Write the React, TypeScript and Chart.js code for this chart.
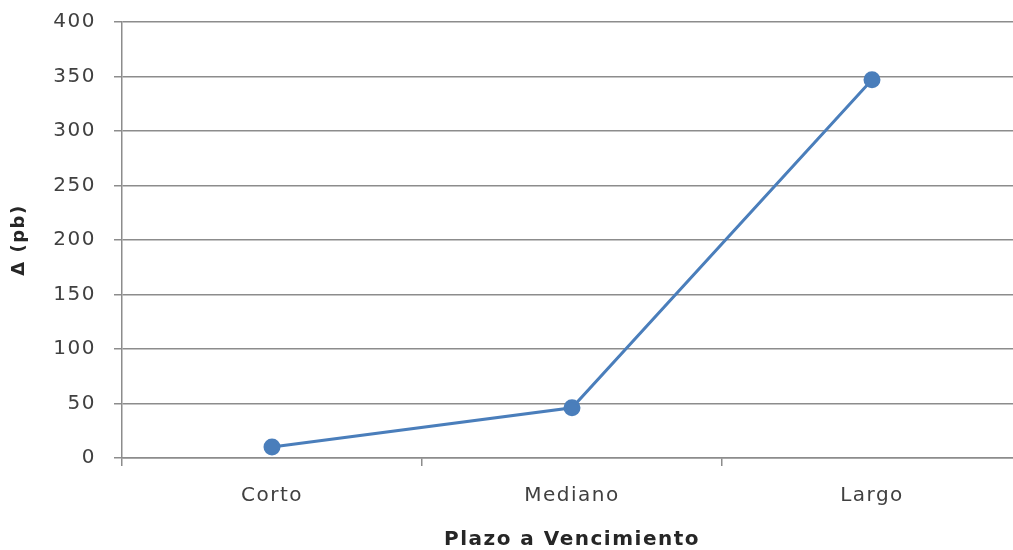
import React, { useEffect, useRef } from "react";
import { Chart, registerables } from "chart.js";

Chart.register(...registerables);

const categories = ["Corto", "Mediano", "Largo"];
const deltaValues = [10, 46, 347];
const yTicks = [0, 50, 100, 150, 200, 250, 300, 350, 400];

const PLOT = { left: 122, top: 22, right: 1022, bottom: 458 };

const fixArea = {
  id: "fixArea",
  afterLayout(chart: any) {
    const ca = chart.chartArea;
    ca.left = PLOT.left;
    ca.right = PLOT.right;
    ca.top = PLOT.top;
    ca.bottom = PLOT.bottom;
    ca.width = PLOT.right - PLOT.left;
    ca.height = PLOT.bottom - PLOT.top;
    const x = chart.scales.x;
    x.left = PLOT.left;
    x.right = PLOT.right;
    x.width = PLOT.right - PLOT.left;
    x.top = PLOT.bottom;
    x.bottom = 550;
    x.height = 550 - PLOT.bottom;
    x.configure();
    const y = chart.scales.y;
    y.top = PLOT.top;
    y.bottom = PLOT.bottom;
    y.height = PLOT.bottom - PLOT.top;
    y.left = 0;
    y.right = PLOT.left;
    y.width = PLOT.left;
    y.configure();
  },
  beforeDraw(chart: any) {
    chart.ctx.letterSpacing = "1.5px";
  },
};

export default function App() {
  const ref = useRef<HTMLCanvasElement | null>(null);

  useEffect(() => {
    document.body.style.margin = "0";
    document.body.style.overflow = "hidden";
    const font = "'DejaVu Sans', Verdana, sans-serif";
    const chart = new Chart(ref.current!, {
      type: "line",
      data: {
        labels: categories,
        datasets: [
          {
            data: deltaValues,
            borderColor: "#4a7ebb",
            backgroundColor: "#4a7ebb",
            borderWidth: 3,
            pointRadius: 7,
            pointHoverRadius: 7,
            tension: 0,
          },
        ],
      },
      plugins: [fixArea],
      options: {
        animation: false,
        responsive: false,
        layout: { padding: { top: 22, right: 0, left: 0, bottom: 0 } },
        plugins: { legend: { display: false }, tooltip: { enabled: false } },
        scales: {
          x: {
            offset: true,
            grid: {
              offset: true,
              drawOnChartArea: false,
              drawTicks: true,
              tickLength: 8,
              color: "#8c8c8c",
              lineWidth: 1.5,
            },
            border: { color: "#8c8c8c", width: 1.5 },
            ticks: {
              padding: 18,
              color: "#404040",
              font: { family: font, size: 20 },
            },
            title: {
              display: true,
              text: "Plazo a Vencimiento",
              color: "#262626",
              font: { family: font, size: 20, weight: "bold" },
              padding: { top: 0, bottom: -2 },
            },
            afterFit: (s: any) => {
              s.height = 92;
            },
          },
          y: {
            min: 0,
            max: 400,
            afterBuildTicks: (s: any) => {
              s.ticks = yTicks.map((v) => ({ value: v }));
            },
            grid: {
              color: "#8c8c8c",
              lineWidth: 1.5,
              drawTicks: true,
              tickLength: 8,
            },
            border: { color: "#8c8c8c", width: 1.5 },
            ticks: {
              padding: 18,
              color: "#404040",
              font: { family: font, size: 20 },
            },
            title: {
              display: true,
              text: "Δ (pb)",
              color: "#262626",
              font: { family: font, size: 18, weight: "bold" },
              padding: { top: 9, bottom: 0 },
            },
            afterFit: (s: any) => {
              s.width = 122;
            },
          },
        },
      },
    });
    return () => chart.destroy();
  }, []);

  return (
    <div style={{ width: 1013, height: 550, overflow: "hidden" }}>
      <canvas ref={ref} width={1013} height={550} style={{ width: 1013, height: 550, display: "block" }} />
    </div>
  );
}
